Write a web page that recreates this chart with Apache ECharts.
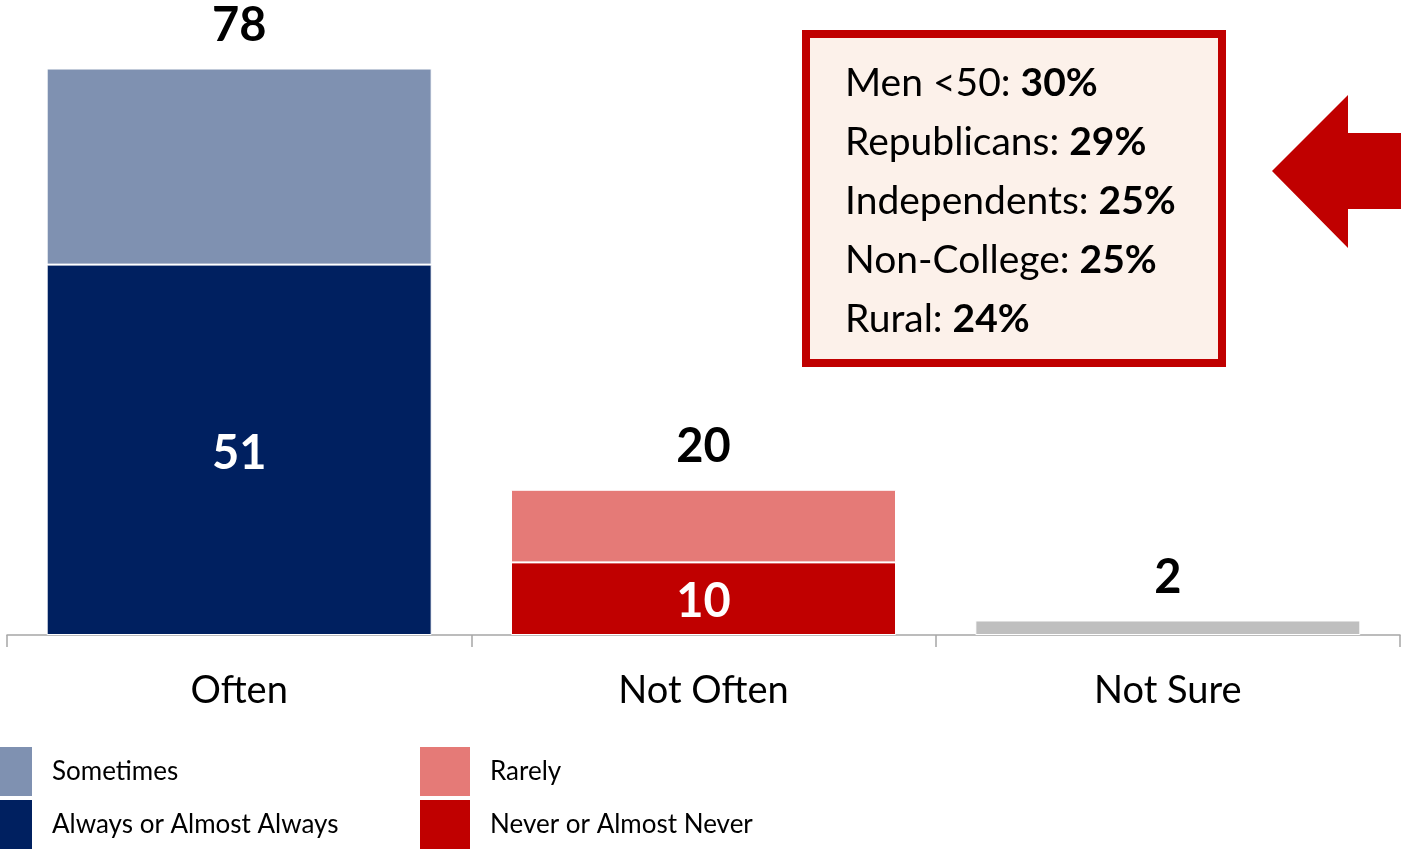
<!DOCTYPE html>
<html>
<head>
<meta charset="utf-8">
<script src="https://cdn.jsdelivr.net/npm/echarts@6/dist/echarts.min.js"></script>
<style>
  html, body { margin: 0; padding: 0; background: #fff; }
  #chart { width: 1401px; height: 850px; }
</style>
</head>
<body>
<div id="chart"></div>
<script>
// Response groups on the x axis
const categories = ['Often', 'Not Often', 'Not Sure'];

// Stacked segment values per group ('-' = no segment in that group)
const alwaysVals    = [51, '-', '-'];
const sometimesVals = [27, '-', '-'];
const neverVals     = ['-', 10, '-'];
const rarelyVals    = ['-', 10, '-'];
const notSureVals   = ['-', '-', 2];

// Callout: subgroups answering "Not Often"
const calloutGroups = ['Men <50', 'Republicans', 'Independents', 'Non-College', 'Rural'];
const calloutShares = ['30%', '29%', '25%', '25%', '24%'];

const FONT = 'Lato, "Open Sans", sans-serif';

function num(v) { return typeof v === 'number' ? v : 0; }
const totals = categories.map((_, i) =>
  num(alwaysVals[i]) + num(sometimesVals[i]) + num(neverVals[i]) + num(rarelyVals[i]) + num(notSureVals[i]));

const totalLabel = {
  show: true,
  position: 'top',
  distance: 19,
  fontFamily: FONT,
  fontWeight: 'bold',
  fontSize: 47,
  color: '#000',
  formatter: p => String(totals[p.dataIndex])
};
const insideLabel = {
  show: true,
  position: 'inside',
  offset: [0, 4],
  fontFamily: FONT,
  fontWeight: 'bold',
  fontSize: 47,
  color: '#fff'
};

function seg(name, data, color, label) {
  return {
    name, type: 'bar', stack: 'total', data, barWidth: 385,
    itemStyle: { color, borderColor: '#fff', borderWidth: 1 },
    label
  };
}

// One legend block per entry, laid out in two columns
function legendItem(name, left, top) {
  return {
    left, top,
    itemWidth: 52, itemHeight: 51,
    icon: 'rect',
    selectedMode: false,
    textStyle: { fontFamily: FONT, fontSize: 26, color: '#000', padding: [0, 0, 0, 14] },
    data: [name]
  };
}

const chart = echarts.init(document.getElementById('chart'), null, { renderer: 'canvas' });

// Callout text lines: regular group name, bold share
const calloutText = calloutGroups.map((g, i) => ({
  type: 'text',
  left: 845,
  top: 64 + i * 59,
  style: {
    text: '{n|' + g + ': }{b|' + calloutShares[i] + '}',
    rich: {
      n: { fontFamily: FONT, fontSize: 39, color: '#000' },
      b: { fontFamily: FONT, fontSize: 39, fontWeight: 'bold', color: '#000' }
    }
  },
  z: 20
}));

chart.setOption({
  animation: false,
  backgroundColor: '#fff',
  grid: { left: 7, right: 1, top: 54, bottom: 215, containLabel: false },
  xAxis: {
    type: 'category',
    data: categories,
    axisLine: { lineStyle: { color: '#A6A6A6', width: 1.5 } },
    axisTick: { show: true, length: 12, lineStyle: { color: '#A6A6A6', width: 1.5 } },
    axisLabel: { fontFamily: FONT, fontSize: 38, color: '#000', margin: 37 }
  },
  yAxis: {
    type: 'value', min: 0, max: 80, show: false,
    splitLine: { show: false }
  },
  legend: [
    legendItem('Sometimes', -25, 740),
    legendItem('Always or Almost Always', -25, 793),
    legendItem('Rarely', 413, 740),
    legendItem('Never or Almost Never', 413, 793)
  ],
  series: [
    seg('Always or Almost Always', alwaysVals, '#002060', insideLabel),
    seg('Sometimes', sometimesVals, '#7F91B1', totalLabel),
    seg('Never or Almost Never', neverVals, '#C00000', { ...insideLabel, offset: [0, 3] }),
    seg('Rarely', rarelyVals, '#E57A77', totalLabel),
    seg('Not Sure', notSureVals, '#BFBFBF', totalLabel)
  ],
  graphic: [
    {
      type: 'rect',
      shape: { x: 806, y: 34, width: 416, height: 329 },
      style: { fill: '#FCF1EA', stroke: '#C00000', lineWidth: 8 },
      z: 10
    },
    ...calloutText,
    {
      type: 'polygon',
      shape: {
        points: [[1272, 171], [1348, 95], [1348, 133], [1401, 133], [1401, 209], [1348, 209], [1348, 248]]
      },
      style: { fill: '#C00000' },
      z: 10
    }
  ]
});
</script>
</body>
</html>
